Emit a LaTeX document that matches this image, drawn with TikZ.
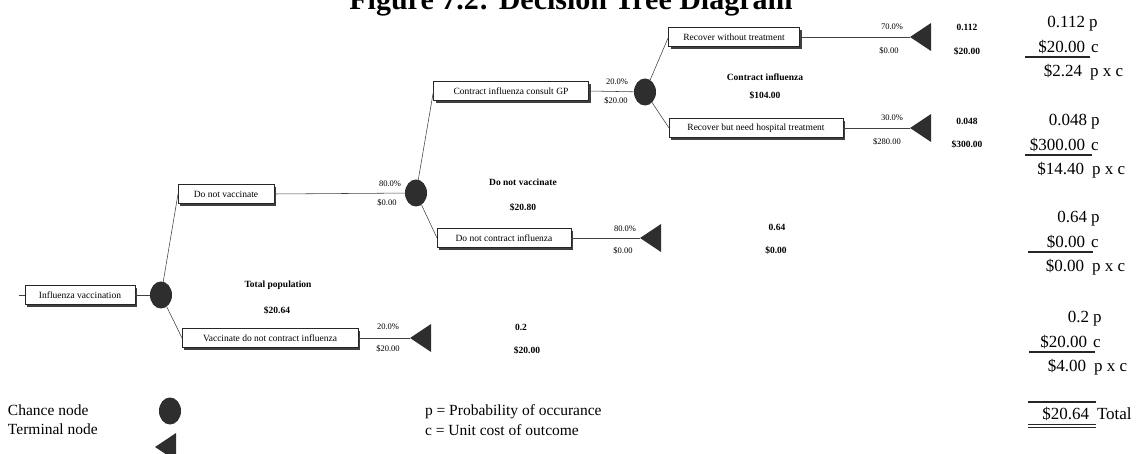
\documentclass[tikz,border=0pt]{standalone}
\usepackage{fontspec}
\setmainfont{Liberation Serif}
\usetikzlibrary{shapes.geometric,shadows}

\tikzset{
  every node/.style={inner sep=0pt, outer sep=0pt},
  branch/.style={draw=black!85, fill=white, line width=0.6pt, minimum height=19pt,
    font=\fontsize{9.5}{10}\selectfont,
    drop shadow={shadow xshift=2.4pt, shadow yshift=-2.4pt, fill=black!75, opacity=1}},
  chance/.style={ellipse, fill=black!82, minimum width=22pt, minimum height=27pt},
  conn/.style={draw=black!75, line width=0.55pt},
  prob/.style={font=\fontsize{8.5}{9}\selectfont},
  ev/.style={font=\bfseries\fontsize{9.5}{10}\selectfont},
  val/.style={font=\fontsize{17}{19}\selectfont, anchor=base east},
  suf/.style={font=\fontsize{17}{19}\selectfont, anchor=base west},
  legend/.style={font=\fontsize{15.5}{17}\selectfont},
  rule/.style={draw=black!85, line width=1.1pt},
}
\newcommand{\termtri}[1]{\fill[black!82] (#1) -- ++(21,-14) -- ++(0,28) -- cycle;}

\begin{document}
\begin{tikzpicture}[x=1pt,y=-1pt]
\useasboundingbox (0,0) rectangle (1141,454);
\clip (0,0) rectangle (1141,454);

% heading
\node[font=\bfseries\fontsize{30}{32}\selectfont, anchor=base] (title) at (571,10) {Figure 7.2: Decision Tree Diagram};

% branch boxes
\node[branch, minimum width=110pt] (root) at (80,295) {Influenza vaccination};
\node[branch, minimum width=96pt]  (dnv)  at (226,194) {Do not vaccinate};
\node[branch, minimum width=176pt] (vac)  at (270,338) {Vaccinate do not contract influenza};
\node[branch, minimum width=155pt] (cgp)  at (511,91)  {Contract influenza consult GP};
\node[branch, minimum width=134pt] (dnc)  at (504,238) {Do not contract influenza};
\node[branch, minimum width=131pt] (rwt)  at (734,37)  {Recover without treatment};
\node[branch, minimum width=174pt] (rht)  at (756,128) {Recover but need hospital treatment};

% chance nodes
\node[chance] (c1) at (161,295) {};
\node[chance] (c2) at (416,193) {};
\node[chance] (c3) at (645,92) {};

% terminal nodes (tip points left)
\coordinate (t1) at (910,37);
\coordinate (t2) at (910,128);
\coordinate (t3) at (640,238);
\coordinate (t4) at (410,338);
\termtri{t1}\termtri{t2}\termtri{t3}\termtri{t4}

% connectors
\coordinate (in) at (19,295);
\draw[conn] (in) -- (root.west);
\draw[conn] (root.east) -- (c1);
\draw[conn] (c1) -- (dnv.west);
\draw[conn] (c1) -- (vac.west);
\draw[conn] (dnv.east) -- (c2);
\draw[conn] (c2) -- (cgp.west);
\draw[conn] (c2) -- (dnc.west);
\draw[conn] (cgp.east) -- (c3);
\draw[conn] (c3) -- (rwt.west);
\draw[conn] (c3) -- (rht.west);
\draw[conn] (rwt.east) -- (t1);
\draw[conn] (rht.east) -- (t2);
\draw[conn] (dnc.east) -- (t3);
\draw[conn] (vac.east) -- (t4);

% branch probabilities and costs
\node[prob] (p1a) at (390,184) {80.0\%};
\node[prob] (p1b) at (387,203) {\$0.00};
\node[prob] (p2a) at (617,82)  {20.0\%};
\node[prob] (p2b) at (616,101) {\$20.00};
\node[prob] (p3a) at (892,27)  {70.0\%};
\node[prob] (p3b) at (889,51)  {\$0.00};
\node[prob] (p4a) at (892,118) {30.0\%};
\node[prob] (p4b) at (887,142) {\$280.00};
\node[prob] (p5a) at (625,229) {80.0\%};
\node[prob] (p5b) at (623,251) {\$0.00};
\node[prob] (p6a) at (388,327) {20.0\%};
\node[prob] (p6b) at (388,349) {\$20.00};

% expected values
\node[ev] (e1a) at (278,285) {Total population};
\node[ev] (e1b) at (277,310) {\$20.64};
\node[ev] (e2a) at (523,182) {Do not vaccinate};
\node[ev] (e2b) at (523,207) {\$20.80};
\node[ev] (e3a) at (765,77)  {Contract influenza};
\node[ev] (e3b) at (765,95)  {\$104.00};

% path probabilities and costs at the terminal nodes
\node[ev] (f1a) at (967,27)  {0.112};
\node[ev] (f1b) at (967,51)  {\$20.00};
\node[ev] (f2a) at (967,121) {0.048};
\node[ev] (f2b) at (967,144) {\$300.00};
\node[ev] (f3a) at (777,227) {0.64};
\node[ev] (f3b) at (776,250) {\$0.00};
\node[ev] (f4a) at (521,327) {0.2};
\node[ev] (f4b) at (527,350) {\$20.00};

% worked totals: p above c, rule, then p x c
\node[val] (g1p) at (1085,28)  {0.112};
\node[suf] (g1ps) at (1089,28) {p};
\node[val] (g1c) at (1085,53)  {\$20.00};
\node[suf] (g1cs) at (1091,53) {c};
\draw[rule] (1025,57) coordinate (g1l) -- (1090,57) coordinate (g1r);
\node[val] (g1x) at (1082,77)  {\$2.24};
\node[suf] (g1xs) at (1090,77) {p x c};

\node[val] (g2p) at (1087,126)  {0.048};
\node[suf] (g2ps) at (1091,126) {p};
\node[val] (g2c) at (1085,151)  {\$300.00};
\node[suf] (g2cs) at (1091,151) {c};
\draw[rule] (1025,155) coordinate (g2l) -- (1092,155) coordinate (g2r);
\node[val] (g2x) at (1084,175)  {\$14.40};
\node[suf] (g2xs) at (1092,175) {p x c};

\node[val] (g3p) at (1087,223)  {0.64};
\node[suf] (g3ps) at (1091,223) {p};
\node[val] (g3c) at (1085,248)  {\$0.00};
\node[suf] (g3cs) at (1091,248) {c};
\draw[rule] (1028,252) coordinate (g3l) -- (1093,252) coordinate (g3r);
\node[val] (g3x) at (1084,272)  {\$0.00};
\node[suf] (g3xs) at (1092,272) {p x c};

\node[val] (g4p) at (1089,323)  {0.2};
\node[suf] (g4ps) at (1093,323) {p};
\node[val] (g4c) at (1087,348)  {\$20.00};
\node[suf] (g4cs) at (1093,348) {c};
\draw[rule] (1029,352) coordinate (g4l) -- (1095,352) coordinate (g4r);
\node[val] (g4x) at (1086,372)  {\$4.00};
\node[suf] (g4xs) at (1094,372) {p x c};

\draw[rule] (1028,402) coordinate (tl) -- (1096,402) coordinate (tr);
\node[val] (tot) at (1089,419)  {\$20.64};
\node[suf] (tots) at (1097,419) {Total};
\draw[rule, line width=0.9pt] (1028,424) coordinate (dl1) -- (1096,424) coordinate (dr1);
\draw[rule, line width=0.9pt] (1028,427.5) coordinate (dl2) -- (1096,427.5) coordinate (dr2);

% key
\node[legend, anchor=mid west] (k1) at (8,413) {Chance node};
\node[legend, anchor=mid west] (k2) at (8,432) {Terminal node};
\node[chance] (kc) at (170,411) {};
\coordinate (kt) at (155,447);
\termtri{kt}
\node[legend, anchor=mid west] (k3) at (425,413) {p = Probability of occurance};
\node[legend, anchor=mid west] (k4) at (425,433) {c = Unit cost of outcome};
\end{tikzpicture}
\end{document}
